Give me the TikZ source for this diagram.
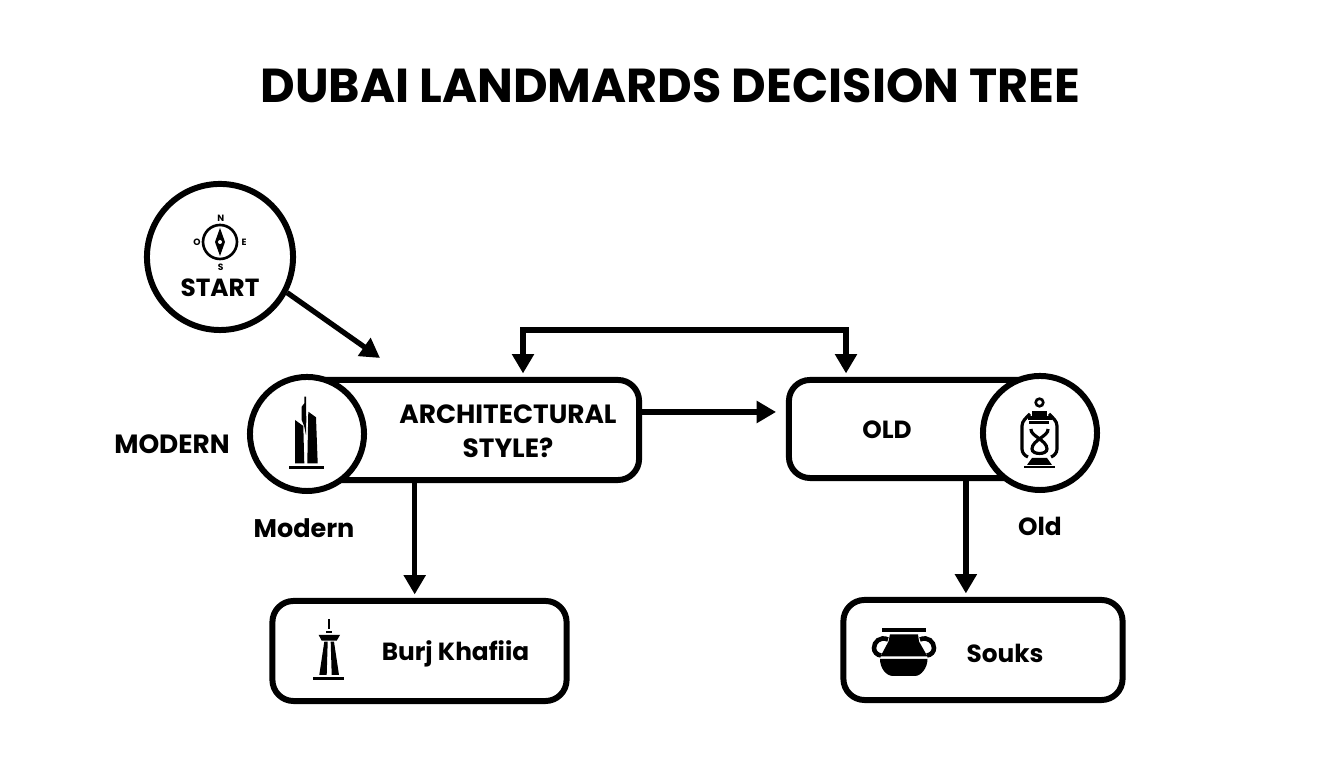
\documentclass[tikz,border=0pt]{standalone}
\usepackage{fontspec}
\setmainfont{Poppins}
\usetikzlibrary{calc,arrows.meta}
\tikzset{
    box/.style={draw, line width=1.7pt, rounded corners=6pt, fill=white, inner sep=0pt},
    badge/.style={draw, circle, line width=1.7pt, fill=white, inner sep=0pt},
    link/.style={line width=1.5pt, -{Triangle[length=5.5pt,width=6pt]}},
    label/.style={font=\fontsize{7.05}{9}\selectfont\bfseries, align=center, inner sep=0pt},
    glyph/.style={fill=black, draw=none},
    ring/.style={draw=black, line width=0.75pt}
}
\begin{document}
\begin{tikzpicture}[x=0.01cm,y=-0.01cm]
        \useasboundingbox (0,0) rectangle (1344,768);
        \node[label, font=\fontsize{13.55}{16}\selectfont\bfseries] (title) at (670.5,86) {DUBAI LANDMARDS DECISION TREE};
        % boxes
        \node[box, minimum width=3.34cm, minimum height=1.00cm] (stylebox) at (472,430) {};
        \node[box, minimum width=2.76cm, minimum height=0.98cm] (oldbox) at (927,429) {};
        \node[box, minimum width=2.94cm, minimum height=1.00cm] (burjbox) at (419.5,651) {};
        \node[box, minimum width=2.79cm, minimum height=1.00cm] (soukbox) at (983,650) {};
        \node[badge, minimum size=1.46cm] (startnode) at (220,257) {};
        \node[badge, minimum size=1.14cm] (modernbadge) at (307,434) {};
        \node[badge, minimum size=1.14cm] (oldbadge) at (1040,433) {};
        % connectors
        \coordinate (startend) at (380,358);
        \coordinate (looptop) at (680,330);
        \coordinate (styleloop) at ($(stylebox.north west)!0.65!(stylebox.north east)$);
        \coordinate (oldloop) at ($(oldbox.north west)!0.213!(oldbox.north east)$);
        \coordinate (burjtop) at ($(burjbox.north west)!0.484!(burjbox.north east)$);
        \coordinate (soukstop) at ($(soukbox.north west)!0.44!(soukbox.north east)$);
        \draw[link] (startnode.-28) -- (startend);
        \draw[link, {Triangle[length=5.5pt,width=6pt]}-{Triangle[length=5.5pt,width=6pt]}, shorten <=1pt, shorten >=1pt] (styleloop) -- (styleloop |- looptop) -- (oldloop |- looptop) -- (oldloop);
        \draw[link] (stylebox.east) ++(0,-18) -- ++(134,0) coordinate (stylearrow);
        \draw[link, shorten >=1pt] (stylebox.south -| burjtop) -- (burjtop);
        \draw[link, shorten >=1pt] (oldbox.south -| soukstop) -- (soukstop);
        % labels
        \node[label] (startlabel) at (220,288) {START};
        \node[label, font=\fontsize{7.5}{9}\selectfont\bfseries] (stylelabel) at (508,431) {ARCHITECTURAL\\[0.6pt]STYLE?};
        \node[label, font=\fontsize{7.5}{9}\selectfont\bfseries] (moderncap) at (172,444) {MODERN};
        \node[label, font=\fontsize{7.25}{9}\selectfont\bfseries] (modernlabel) at (304,528) {Modern};
        \node[label] (oldlabel) at (887,430) {OLD};
        \node[label] (oldcap) at (1040,526) {Old};
        \node[label] (burjlabel) at (455.5,654) {Burj Khafiia};
        \node[label] (soukslabel) at (1005,653) {Souks};
        % compass
        \draw[ring] (220,242) circle (17);
        \fill[glyph] (220,228) -- (225,242) -- (220,256) -- (215,242) -- cycle;
        \fill[white] (220,242) circle (2);
        \foreach \px/\py/\letter in {220.7/218/N, 197/242/O, 244/242/E, 220.7/267/S}
            \node[font=\fontsize{2.6}{3}\selectfont\bfseries, inner sep=0pt] (compass\letter) at (\px,\py) {\letter};
        % modern towers
        \fill[glyph] (289,466) rectangle (323.5,469.5);
        \fill[glyph] (295,420) -- (303.3,426) -- (304.3,463.3) -- (295,463.3) -- cycle;
        \fill[glyph] (308.3,411.7) -- (316,417.3) -- (317.7,463.3) -- (307.3,463.3) -- cycle;
        \fill[glyph] (304.3,396.7) -- (306,396.7) -- (306.3,420) -- (306,435) -- (304.3,426.7) -- (301.7,420) -- (301.7,406.7) -- (304.3,403.3) -- cycle;
        % lantern
        \draw[ring] (1039.5,402.5) circle (3.8);
        \fill[glyph] (1031.7,411) rectangle (1046.7,417);
        \fill[glyph] (1027.5,416) rectangle (1051.5,420);
        \fill[glyph] (1029.3,421.5) rectangle (1049.3,424);
        \draw[ring, line width=0.9pt] (1030,414) .. controls (1026,418) and (1022,421) .. (1022,426) -- (1022,449) .. controls (1022,453) and (1025,456) .. (1028,457);
        \draw[ring, line width=0.9pt] (1049,414) .. controls (1053,418) and (1057,421) .. (1057,426) -- (1057,449) .. controls (1057,453) and (1054,456) .. (1051,457);
        \draw[ring, line width=0.9pt] (1031,429) .. controls (1030,436) and (1047,440) .. (1047,449) .. controls (1047,455) and (1032,455) .. (1032,449) .. controls (1032,440) and (1049,436) .. (1048,429);
        \fill[glyph] (1032,458) -- (1047,458) -- (1052,465) -- (1027,465) -- cycle;
        \fill[glyph] (1024,466) rectangle (1055,468.5);
        % burj icon
        \fill[glyph] (327.7,619.3) rectangle (330,629.3);
        \fill[glyph] (326,630.7) rectangle (332.3,633.3);
        \fill[glyph] (318.7,635) -- (340,635) -- (336.7,640.7) -- (321.7,640.7) -- cycle;
        \fill[glyph] (324.3,641.7) -- (327.7,641.7) -- (326.7,675) -- (319.3,675) -- cycle;
        \fill[glyph] (330.7,641.7) -- (334,641.7) -- (339,675) -- (331.7,675) -- cycle;
        \fill[glyph] (313.3,676.7) rectangle (344,680.3);
        % pot
        \fill[glyph] (881.7,628.3) rectangle (926,632.3);
        \fill[glyph] (890,634.3) -- (918,634.3) -- (919,641.5) -- (927.5,656.5) -- (880.5,656.5) -- (888.5,641.5) -- cycle;
        \fill[glyph] (880,659) -- (927.5,659) .. controls (927.5,668) and (921,676) .. (915,676) -- (893,676) .. controls (886,676) and (880,668) .. cycle;
        \draw[ring, line width=1.3pt] (888,639.5) .. controls (880,636) and (874,642) .. (874,648) .. controls (874,652) and (877,655) .. (881,655.5);
        \draw[ring, line width=1.3pt] (920,639.5) .. controls (928,636) and (934,642) .. (934,648) .. controls (934,652) and (931,655) .. (927,655.5);
    \end{tikzpicture}
\end{document}
